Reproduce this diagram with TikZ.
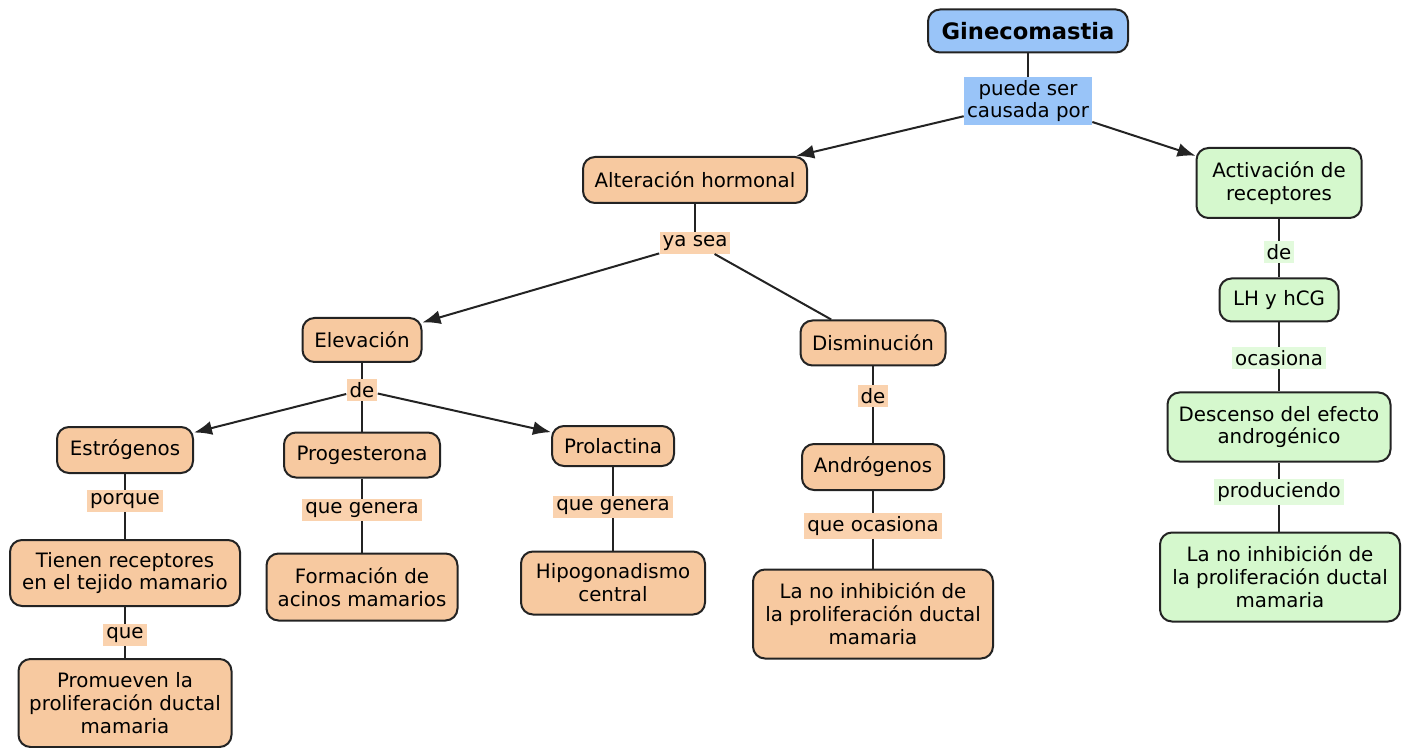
\documentclass[tikz,border=0pt]{standalone}
\usepackage{fontspec}
\setmainfont{DejaVu Sans}
\usetikzlibrary{shapes,arrows.meta,positioning,calc}
\definecolor{peach}{RGB}{247,201,160}
\definecolor{peachlink}{RGB}{250,210,174}
\definecolor{skyblue}{RGB}{153,196,248}
\definecolor{mint}{RGB}{213,248,205}
\definecolor{mintlink}{RGB}{226,250,220}
\definecolor{edgegray}{RGB}{35,35,35}

\begin{document}
\begin{tikzpicture}[x=0.5pt,y=-0.5pt,
    concept/.style={draw=edgegray, line width=1pt, rounded corners=6pt, fill=peach,
        align=center, inner sep=2pt, font=\fontsize{9.9}{11.4}\selectfont},
    linkword/.style={fill=peachlink, align=center, inner sep=1.5pt,
        font=\fontsize{9.9}{11.4}\selectfont},
    conn/.style={draw=edgegray, line width=1pt},
    arr/.style={conn, -{Latex[length=9pt,width=7pt]}}]
    \useasboundingbox (0,0) rectangle (1402,748);

    % Main concept
    \node[concept, fill=skyblue, minimum width=100pt, minimum height=21.5pt,
        font=\fontsize{11.3}{13}\selectfont\bfseries] (gin) at (1028,31) {Ginecomastia};
    \node[linkword, fill=skyblue] (lcaus) at (1028,101) {puede ser\\causada por};

    % Hormonal branch
    \node[concept, minimum width=112pt, minimum height=23pt] (alt) at (695,180) {Alteración hormonal};
    \node[linkword] (lya) at (695,243) {ya sea};
    \node[concept, minimum width=59.5pt, minimum height=22pt] (elev) at (362,340) {Elevación};
    \node[concept, minimum width=72.5pt, minimum height=22.5pt] (dism) at (873,343) {Disminución};
    \node[linkword] (lde1) at (362,390) {de};
    \node[linkword] (lde2) at (873,396) {de};

    % Elevated hormones
    \node[concept, minimum width=68pt, minimum height=23pt] (estr) at (125,450) {Estrógenos};
    \node[concept, minimum width=78pt, minimum height=22.5pt] (prog) at (362,455) {Progesterona};
    \node[concept, minimum width=61pt, minimum height=20pt] (prol) at (613,446) {Prolactina};
    \node[linkword] (lpor) at (125,501) {porque};
    \node[linkword] (lgen1) at (362,510) {que genera};
    \node[linkword] (lgen2) at (613,507) {que genera};
    \node[concept, minimum width=115pt, minimum height=33pt] (tien) at (125,573) {Tienen receptores\\en el tejido mamario};
    \node[concept, minimum width=95.5pt, minimum height=33.5pt] (form) at (362,587) {Formación de\\acinos mamarios};
    \node[concept, minimum width=92pt, minimum height=31.5pt] (hipo) at (613,583) {Hipogonadismo\\central};
    \node[linkword] (lque) at (125,635) {que};
    \node[concept, minimum width=106.5pt, minimum height=44pt] (prom) at (125,703) {Promueven la\\proliferación ductal\\mamaria};

    % Decreased hormones
    \node[concept, minimum width=71pt, minimum height=23pt] (andr) at (873,467) {Andrógenos};
    \node[linkword] (loca) at (873,526) {que ocasiona};
    \node[concept, minimum width=120pt, minimum height=44.5pt] (noinh) at (873,614) {La no inhibición de\\la proliferación ductal\\mamaria};

    % Receptor branch
    \node[concept, fill=mint, minimum width=82.5pt, minimum height=35pt] (act) at (1279,183) {Activación de\\receptores};
    \node[linkword, fill=mintlink] (lde3) at (1279,252) {de};
    \node[concept, fill=mint, minimum width=59.5pt, minimum height=21.5pt] (lh) at (1279,300) {LH y hCG};
    \node[linkword, fill=mintlink] (locas) at (1279,358) {ocasiona};
    \node[concept, fill=mint, minimum width=111.5pt, minimum height=34.5pt] (desc) at (1279,427) {Descenso del efecto\\androgénico};
    \node[linkword, fill=mintlink] (lprod) at (1279,492) {produciendo};
    \node[concept, fill=mint, minimum width=120pt, minimum height=44.5pt] (noinhr) at (1280,577) {La no inhibición de\\la proliferación ductal\\mamaria};

    % Connectors
    \draw[conn] (gin) -- (lcaus);
    \draw[arr] (lcaus) -- (alt);
    \draw[arr] (lcaus) -- (act);
    \draw[conn] (alt) -- (lya);
    \draw[arr] (lya) -- (elev);
    \draw[conn] (lya) -- (dism);
    \draw[conn] (elev) -- (lde1);
    \draw[arr] (lde1) -- (estr);
    \draw[conn] (lde1) -- (prog);
    \draw[arr] (lde1) -- (prol);
    \draw[conn] (estr) -- (lpor) -- (tien) -- (lque) -- (prom);
    \draw[conn] (prog) -- (lgen1) -- (form);
    \draw[conn] (prol) -- (lgen2) -- (hipo);
    \draw[conn] (dism) -- (lde2) -- (andr) -- (loca) -- (noinh);
    \draw[conn] (act) -- (lde3) -- (lh) -- (locas) -- (desc);
    \draw[conn] (desc) -- (lprod) -- (noinhr.north -| lprod);
\end{tikzpicture}
\end{document}
